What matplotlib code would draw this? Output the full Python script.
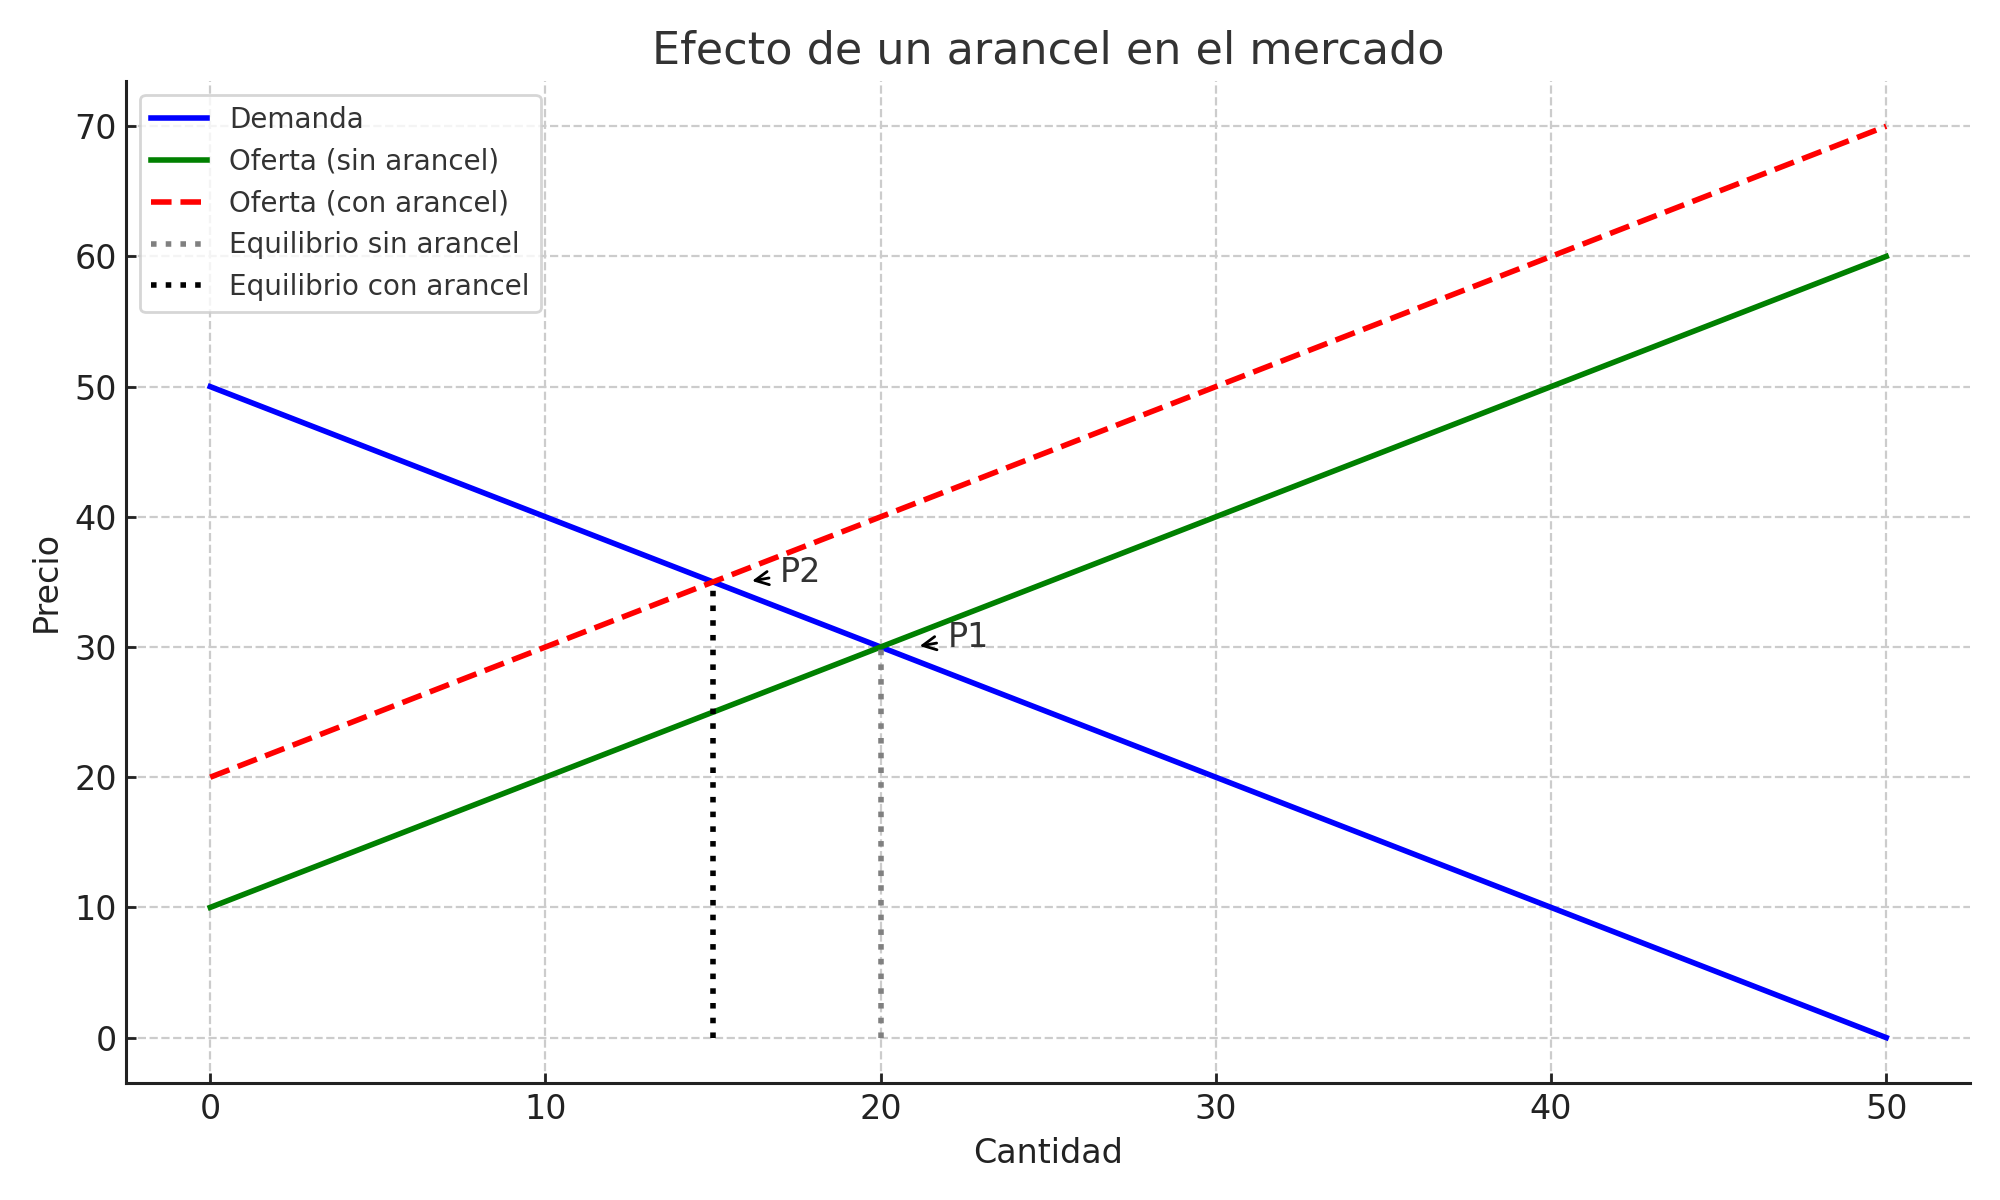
import numpy as np
import matplotlib
matplotlib.use("Agg")
from matplotlib import pyplot as plt

# datos del mercado
cantidad = np.array([0, 10, 20, 30, 40, 50])
demanda = np.array([50, 40, 30, 20, 10, 0])
oferta = np.array([10, 20, 30, 40, 50, 60])
oferta_arancel = np.array([20, 30, 40, 50, 60, 70])

# equilibrios
q_sin, p_sin = 20, 30
q_con, p_con = 15, 35

plt.rcParams['font.family'] = 'DejaVu Sans'
fig, ax = plt.subplots(figsize=(10, 6), dpi=200)

ax.plot(cantidad, demanda, color='blue', lw=2, label='Demanda')
ax.plot(cantidad, oferta, color='green', lw=2, label='Oferta (sin arancel)')
ax.plot(cantidad, oferta_arancel, color='red', lw=2, ls='--', label='Oferta (con arancel)')
ax.vlines(q_sin, 0, p_sin, colors='gray', linestyles=':', lw=2, label='Equilibrio sin arancel')
ax.vlines(q_con, 0, p_con, colors='black', linestyles=':', lw=2, label='Equilibrio con arancel')

ax.annotate('P1', xy=(q_sin + 1, p_sin), xytext=(q_sin + 2, p_sin), fontsize=12,
            color='#333333', arrowprops=dict(arrowstyle='->', color='black'))
ax.annotate('P2', xy=(q_con + 1, p_con), xytext=(q_con + 2, p_con), fontsize=12,
            color='#333333', arrowprops=dict(arrowstyle='->', color='black'))

ax.set_title('Efecto de un arancel en el mercado', fontsize=16, color='#333333')
ax.set_xlabel('Cantidad', fontsize=12, color='#222222')
ax.set_ylabel('Precio', fontsize=12, color='#222222')
ax.tick_params(labelsize=12, colors='#222222', direction='in', length=3.5, width=1)
ax.set_xticks([0, 10, 20, 30, 40, 50])
ax.set_yticks([0, 10, 20, 30, 40, 50, 60, 70])
ax.grid(True, ls='--', color='#cccccc', lw=0.8)
ax.spines['top'].set_visible(False)
ax.spines['right'].set_visible(False)
for s in ['left', 'bottom']:
    ax.spines[s].set_color('#222222')
    ax.spines[s].set_linewidth(1.1)

leg = ax.legend(loc='upper left', fontsize=10)
for t in leg.get_texts():
    t.set_color('#333333')

plt.tight_layout()
plt.savefig('out.png')
